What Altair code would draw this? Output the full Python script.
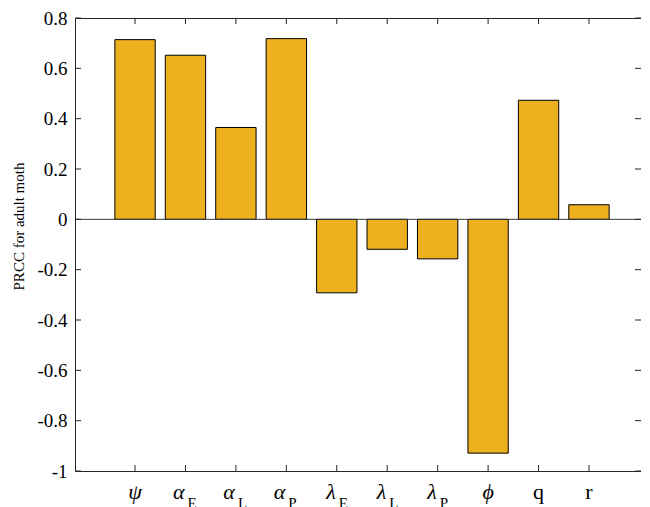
import altair as alt
import pandas as pd

keys = ["psi", "alphaE", "alphaL", "alphaP", "lambdaE", "lambdaL", "lambdaP", "phi", "q", "r"]
symbols = ["ψ", "α", "α", "α", "λ", "λ", "λ", "ϕ", "q", "r"]
subs = ["", "E", "L", "P", "E", "L", "P", "", "", ""]
kinds = ["greek", "greeksub", "greeksub", "greeksub", "greeksub", "greeksub", "greeksub", "greek", "latin", "latin"]
values = [0.714, 0.652, 0.365, 0.718, -0.292, -0.119, -0.157, -0.929, 0.473, 0.058]
yticks = [-1, -0.8, -0.6, -0.4, -0.2, 0, 0.2, 0.4, 0.6, 0.8]

W, H = 566, 453
XR = 574
FONT = "Liberation Serif, Times New Roman, serif"
AX = "#262626"

df = pd.DataFrame({"k": keys, "sym": symbols, "sub": subs, "kind": kinds, "v": values})
tdf = pd.DataFrame({"v": yticks})
zdf = pd.DataFrame({"v": [0]})
kdf = pd.DataFrame({"k": keys})

xs = alt.Scale(domain=keys, range=[0, XR], paddingInner=0.2, paddingOuter=0.79)
ys = alt.Scale(domain=[-1, 0.8], nice=False, zero=False)
yaxis = alt.Axis(
    values=yticks,
    labelExpr="toString(round(datum.value*10)/10)",
    tickSize=0, domain=False, grid=False,
    labelFont=FONT, labelFontSize=19, labelColor="black", labelPadding=8,
    title="PRCC for adult moth", titleFont=FONT, titleFontSize=15,
    titleFontWeight="normal", titleColor="black",
    titleX=-57, titleY=208, titleAngle=270, titleAlign="center", titleBaseline="middle",
)

def X():
    return alt.X("k:N", scale=xs, axis=None)

def Y():
    return alt.Y("v:Q", scale=ys, axis=yaxis)

bars = alt.Chart(df).mark_bar(color="#EDB120", stroke="black", strokeWidth=1).encode(
    x=X(), y=Y(), y2=alt.datum(0)
)
zero = alt.Chart(zdf).mark_rule(color="#3a3a3a", strokeWidth=1).encode(y=Y())

ytl = alt.Chart(tdf).mark_rule(color=AX, strokeWidth=1).encode(y=Y(), x=alt.value(0), x2=alt.value(6))
ytr = alt.Chart(tdf).mark_rule(color=AX, strokeWidth=1).encode(y=Y(), x=alt.value(W - 6), x2=alt.value(W))
xtb = alt.Chart(kdf).mark_rule(color=AX, strokeWidth=1).encode(x=X(), y=alt.value(H - 6), y2=alt.value(H))
xtt = alt.Chart(kdf).mark_rule(color=AX, strokeWidth=1).encode(x=X(), y=alt.value(0), y2=alt.value(6))

base_txt = alt.Chart(df)
t_greek = base_txt.transform_filter("datum.kind == 'greek'").mark_text(
    font=FONT, fontSize=22, fontStyle="italic", baseline="alphabetic", align="center", color="black"
).encode(x=X(), y=alt.value(481), text="sym:N")
t_gsub = base_txt.transform_filter("datum.kind == 'greeksub'").mark_text(
    font=FONT, fontSize=22, fontStyle="italic", baseline="alphabetic", align="right", dx=-1, color="black"
).encode(x=X(), y=alt.value(481), text="sym:N")
t_sub = base_txt.transform_filter("datum.kind == 'greeksub'").mark_text(
    font=FONT, fontSize=15, baseline="alphabetic", align="left", dx=2, color="black"
).encode(x=X(), y=alt.value(490), text="sub:N")
t_latin = base_txt.transform_filter("datum.kind == 'latin'").mark_text(
    font=FONT, fontSize=22, baseline="alphabetic", align="center", color="black"
).encode(x=X(), y=alt.value(481), text="sym:N")

chart = alt.layer(bars, zero, ytl, ytr, xtb, xtt, t_greek, t_gsub, t_sub, t_latin).properties(
    width=W, height=H,
    padding={"left": 67, "top": 10, "right": 0, "bottom": 36},
    autosize=alt.AutoSizeParams(type="none"),
    background="white",
).configure_view(stroke=AX, strokeWidth=1)

chart.save("out.html", embed_options={"renderer": "svg", "actions": False})
